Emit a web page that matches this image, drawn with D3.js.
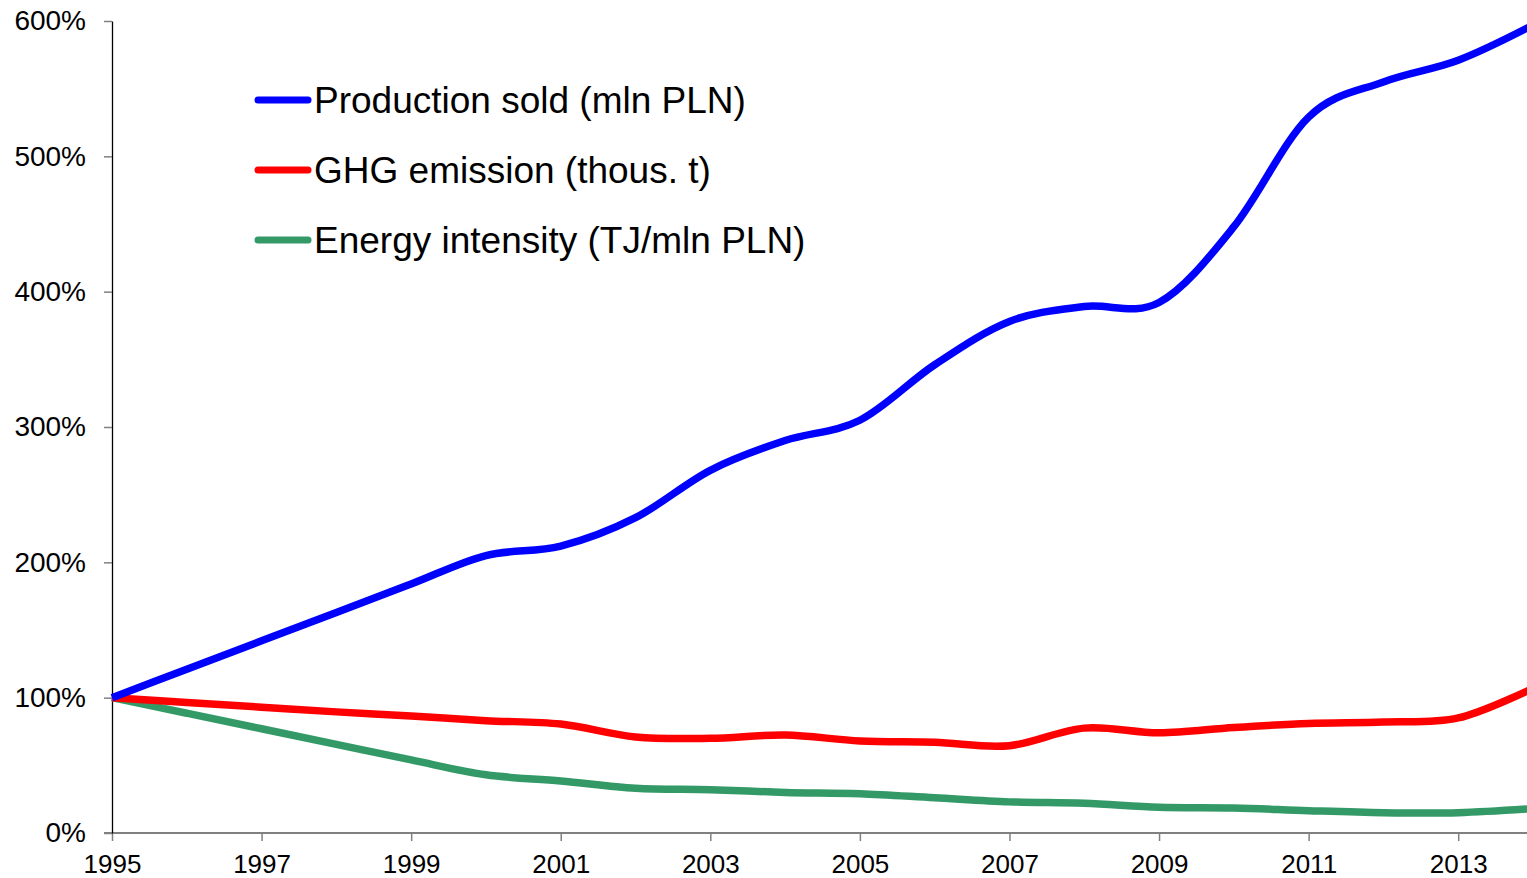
<!DOCTYPE html>
<html>
<head>
<meta charset="utf-8">
<script src="https://cdn.jsdelivr.net/npm/d3@7"></script>
<style>
  body { margin: 0; background: #fff; }
  svg { display: block; font-family: "Liberation Sans", Arial, sans-serif; }
</style>
</head>
<body>
<div id="chart"></div>
<script>
// values, % of 1995
var years = [1995,1996,1997,1998,1999,2000,2001,2002,2003,2004,2005,2006,2007,2008,2009,2010,2011,2012,2013,2014];
var production = [100,121,142,163,184,205,212,233,268,290,305,346,378,389,392,448,529,555,571,597];
var ghg = [100,96.5,93,89.5,86.5,83,80.5,71,70,72.4,68,67,64.5,77.5,74,78,81,82,85,107];
var energy = [100,88.5,77,65.5,54,43,38.5,33,32,30,29,26,23,22,19,18.5,16.5,15,15,18];
var xTicks = [1995,1997,1999,2001,2003,2005,2007,2009,2011,2013];
var yTicks = [0,100,200,300,400,500,600];
var seriesNames = ['Production sold (mln PLN)', 'GHG emission (thous. t)', 'Energy intensity (TJ/mln PLN)'];
var seriesColors = ['#0000ff', '#ff0000', '#339966'];

var W = 1527, H = 878;
var svg = d3.select('#chart').append('svg')
  .attr('width', W).attr('height', H);

var x = d3.scaleLinear().domain([1995, 2014]).range([112, 1533]);
var y = d3.scaleLinear().domain([0, 600]).range([833, 21]);

// x axis
var xAxis = d3.axisBottom(x).tickValues(xTicks).tickFormat(d3.format('d'))
  .tickSize(8).tickSizeOuter(0).tickPadding(14);
var gx = svg.append('g').attr('transform', 'translate(0,833)').call(xAxis);
gx.select('.domain').attr('stroke', '#808080').attr('stroke-width', 2)
  .attr('d', 'M104,0H' + W);
gx.selectAll('.tick line').attr('stroke', '#808080').attr('stroke-width', 1.5);
gx.selectAll('.tick text').attr('fill', '#000').style('font-size', '26px');

// y axis
var yAxis = d3.axisLeft(y).tickValues(yTicks).tickFormat(function(d){ return d + '%'; })
  .tickSize(8).tickSizeOuter(0).tickPadding(18);
var gy = svg.append('g').attr('transform', 'translate(112,0)').call(yAxis);
gy.select('.domain').attr('stroke', '#000').attr('stroke-width', 1.3);
gy.selectAll('.tick line').attr('stroke', '#808080').attr('stroke-width', 1.5);
gy.selectAll('.tick text').attr('fill', '#000').style('font-size', '28px');

var line = d3.line()
  .x(function(d, i){ return x(years[i]); })
  .y(function(d){ return y(d); })
  .curve(d3.curveCatmullRom.alpha(0));

var allSeries = [production, ghg, energy];
// draw green first so blue stays on top, like the original
[2, 1, 0].forEach(function(k){
  svg.append('path')
    .attr('d', line(allSeries[k]))
    .attr('fill', 'none')
    .attr('stroke', seriesColors[k])
    .attr('stroke-width', 7.5)
    .attr('stroke-linejoin', 'round');
});

// legend
var legend = svg.append('g');
seriesNames.forEach(function(name, i){
  var ly = 100 + i * 70;
  legend.append('line')
    .attr('x1', 258).attr('x2', 308).attr('y1', ly).attr('y2', ly)
    .attr('stroke', seriesColors[i]).attr('stroke-width', 7)
    .attr('stroke-linecap', 'round');
  legend.append('text')
    .attr('x', 314).attr('y', ly + 13)
    .style('font-size', '37px')
    .attr('fill', '#000')
    .text(name);
});
</script>
</body>
</html>
